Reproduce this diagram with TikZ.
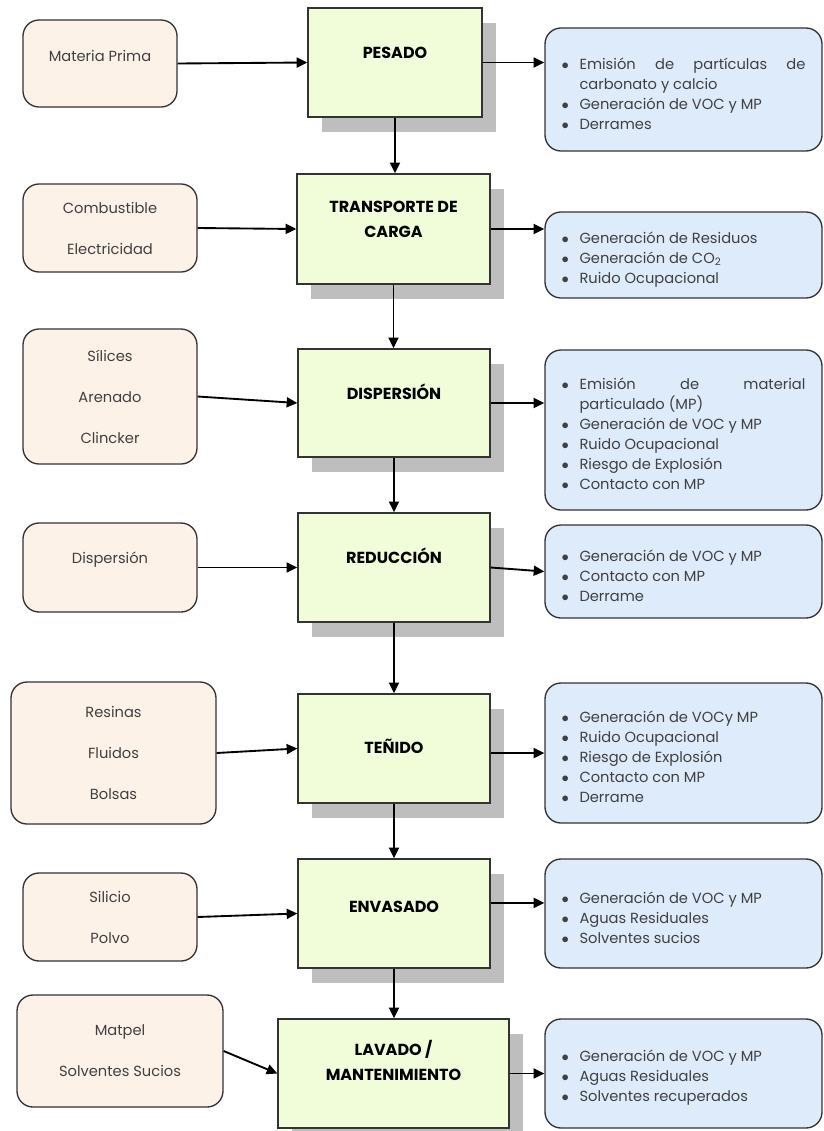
\documentclass[tikz,border=0pt]{standalone}
\usepackage{fontspec}
\setmainfont{Poppins}
\usetikzlibrary{arrows.meta,shadows}
\definecolor{inbg}{HTML}{FDF2E8}
\definecolor{procbg}{HTML}{F1FCD9}
\definecolor{outbg}{HTML}{DDEBFB}
\definecolor{shade}{HTML}{BEBEBE}
\definecolor{edge}{HTML}{333333}
\definecolor{txt}{HTML}{404040}
\def\px{0.75pt}
\hyphenpenalty=10000
\def\itm#1{\par\hangindent=13.5pt\hangafter=1\noindent\makebox[13.5pt][l]{$\bullet$}#1}
\tikzset{
  inbox/.style={draw=edge, line width=1pt, fill=inbg, rounded corners=12pt, inner sep=0pt,
    align=center, text=txt, font=\fontsize{11}{15}\selectfont},
  procbox/.style={draw=edge, line width=1pt, fill=procbg, inner sep=0pt, align=center,
    text height=8.5pt, font=\fontsize{12}{15}\selectfont\bfseries,
    drop shadow={shadow xshift=10.5pt, shadow yshift=-11.25pt, fill=shade, opacity=1}},
  outbox/.style={draw=edge, line width=1pt, fill=outbg, rounded corners=12pt, inner sep=0pt,
    minimum width=277*\px, text width=183pt, align=justify, text=txt,
    font=\fontsize{11}{15}\selectfont},
  flow/.style={-{Triangle[length=8pt,width=7.5pt]}, line width=1.4pt, black}
}
\begin{document}
\begin{tikzpicture}[x=0.75pt,y=-0.75pt]
\useasboundingbox (0,0) rectangle (824,1131);
% entradas
\node[inbox, minimum width=154*\px, minimum height=87*\px, text height=8pt, text depth=11.25pt] (in1) at (100,63.5) {Materia Prima};
\node[inbox, minimum width=174*\px, minimum height=88*\px] (in2) at (110,228) {Combustible\\[15.75pt]Electricidad};
\node[inbox, minimum width=174*\px, minimum height=135*\px] (in3) at (110,396.5) {Sílices\\[15.75pt]Arenado\\[15.75pt]Clincker};
\node[inbox, minimum width=174*\px, minimum height=89*\px, text height=8pt, text depth=13.8pt] (in4) at (110,567.5) {Dispersión};
\node[inbox, minimum width=205*\px, minimum height=142*\px] (in5) at (113.5,753) {Resinas\\[15.75pt]Fluidos\\[15.75pt]Bolsas};
\node[inbox, minimum width=174*\px, minimum height=88*\px] (in6) at (110,917) {Silicio\\[15.75pt]Polvo};
\node[inbox, minimum width=206*\px, minimum height=112*\px] (in7) at (120,1051) {Matpel\\[15.75pt]Solventes Sucios};
% procesos
\node[procbox, minimum width=174*\px, minimum height=109*\px, text depth=14.25pt] (p1) at (395,62.5) {PESADO};
\node[procbox, minimum width=193*\px, minimum height=110*\px, text height=16.6pt, text depth=4pt] (p2) at (393.5,229) {TRANSPORTE DE\\[3.75pt]CARGA};
\node[procbox, minimum width=192*\px, minimum height=108*\px, text depth=13.5pt] (p3) at (394,403) {DISPERSIÓN};
\node[procbox, minimum width=192*\px, minimum height=109*\px, text depth=14.25pt] (p4) at (394,567.5) {REDUCCIÓN};
\node[procbox, minimum width=192*\px, minimum height=109*\px, text depth=1pt] (p5) at (394,748.5) {TEÑIDO};
\node[procbox, minimum width=192*\px, minimum height=109*\px, text depth=10.2pt] (p6) at (394,913.5) {ENVASADO};
\node[procbox, minimum width=231*\px, minimum height=109*\px, text height=14.3pt, text depth=4pt] (p7) at (393.5,1073.5) {LAVADO /\\[3.75pt]MANTENIMIENTO};
% salidas
\node[outbox, minimum height=123*\px] (out1) at (683.5,89.5) {\itm{Emisión de partículas de\linebreak carbonato y calcio}\itm{Generación de VOC y MP}\itm{Derrames}};
\node[outbox, minimum height=86*\px] (out2) at (683.5,255) {\itm{Generación de Residuos}\itm{Generación de CO\textsubscript{2}}\itm{Ruido Ocupacional}};
\node[outbox, minimum height=160*\px] (out3) at (683.5,430) {\itm{Emisión de material\linebreak particulado (MP)}\itm{Generación de VOC y MP}\itm{Ruido Ocupacional}\itm{Riesgo de Explosión}\itm{Contacto con MP}};
\node[outbox, minimum height=93*\px] (out4) at (683.5,571.5) {\itm{Generación de VOC y MP}\itm{Contacto con MP}\itm{Derrame}};
\node[outbox, minimum height=140*\px] (out5) at (683.5,753) {\itm{Generación de VOCy MP}\itm{Ruido Ocupacional}\itm{Riesgo de Explosión}\itm{Contacto con MP}\itm{Derrame}};
\node[outbox, minimum height=109*\px] (out6) at (683.5,913.5) {\itm{Generación de VOC y MP}\itm{Aguas Residuales}\itm{Solventes sucios}};
\node[outbox, minimum height=109*\px] (out7) at (683.5,1073.5) {\itm{Generación de VOC y MP}\itm{Aguas Residuales}\itm{Solventes recuperados}};
% flechas
\draw[flow] (in1.east) -- (p1.west);
\draw[flow] (in2.east) -- (p2.west);
\draw[flow] (in3.east) -- (p3.west);
\draw[flow] (in4.east) -- (p4.west);
\draw[flow] (in5.east) -- (p5.west);
\draw[flow] (in6.east) -- (p6.west);
\draw[flow] (in7.east) -- (p7.west);
\draw[flow] (p1.south) -- (p1.south |- p2.north);
\draw[flow] (p2.south) -- (p2.south |- p3.north);
\draw[flow] (p3.south) -- (p3.south |- p4.north);
\draw[flow] (p4.south) -- (p4.south |- p5.north);
\draw[flow] (p5.south) -- (p5.south |- p6.north);
\draw[flow] (p6.south) -- (p6.south |- p7.north);
\draw[flow] (p1.east) -- (p1.east -| out1.west);
\draw[flow] (p2.east) -- (p2.east -| out2.west);
\draw[flow] (p3.east) -- (p3.east -| out3.west);
\draw[flow] (p4.east) -- (out4.west);
\draw[flow] ([yshift=-3.4pt]p5.east) -- ([yshift=-3.4pt]p5.east -| out5.west);
\draw[flow] ([yshift=7.9pt]p6.east) -- ([yshift=7.9pt]p6.east -| out6.west);
\draw[flow] (p7.east) -- (p7.east -| out7.west);
\end{tikzpicture}
\end{document}
